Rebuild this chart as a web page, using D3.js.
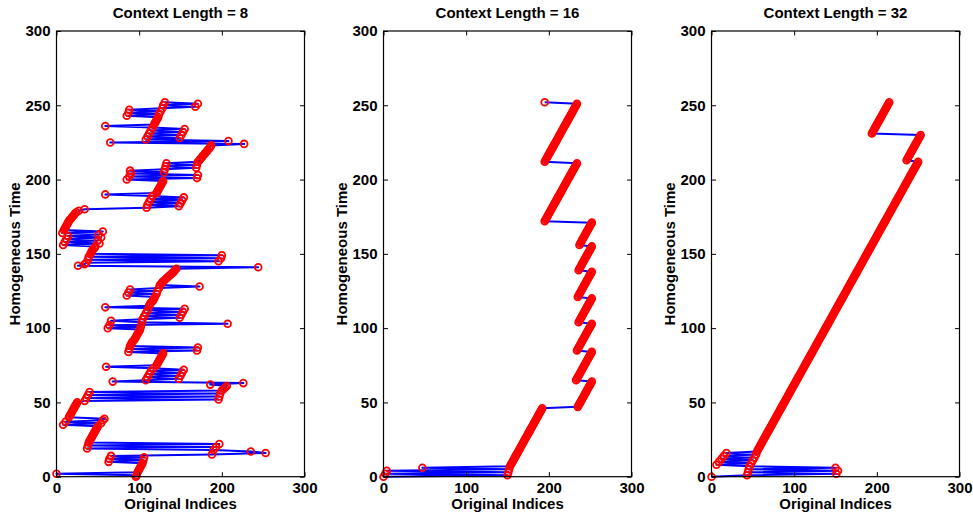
<!DOCTYPE html>
<html><head><meta charset="utf-8">
<script src="https://cdn.jsdelivr.net/npm/d3@7"></script>
<style>
body{margin:0;background:#fff}
svg{display:block}
text{font-family:"Liberation Sans",Arial,Helvetica,sans-serif;font-weight:bold;fill:#000}
</style>
</head><body>
<svg id="c" width="973" height="516"></svg>
<script>
// ---- data ----
const titles = ["Context Length = 8", "Context Length = 16", "Context Length = 32"];
const xLabel = "Original Indices";
const yLabel = "Homogeneous Time";
const xTicks = [0, 100, 200, 300];
const yTicks = [0, 50, 100, 150, 200, 250, 300];

// Original index visited at each homogeneous time step (in order).
// [a,b] = a run of consecutive original indices a..b.
const ctx8 = [96, 97, 0, [98,104], 63, 105, 64, 106, 66, 188, 253, 235, 190, 37, 193, 38, 197, 39, [40,50],
  8, 54, 11, 56, 58, [15,25],
  34, 196, 36, 197, 38, 198, 40, 200, 202, 204, 206, 186, 226, 68,
  108, 148, 110, 150, 112, 152, 114, 154, 117, 60, [121,129],
  87, 170, 88, 171, [89,92], [94,101],
  62, 102, 64, 207, 103, 66, 104, 149, 106, 151, 108, 153, 110, 155, 59, [112,114], [116,119],
  85, 121, 87, 122, 89, 124, 173, 125, 127, 128, 130, 132, 134, 136, 138, 140, 142, 143, 145,
  244, 26, 34, 36, 196, 38, 199, 39, 200, 41, [42,44], 46, 47,
  8, 52, 10, 50, 12, 54, 14, 51, 7, 56, [9,16], 18, 19, 21, 22, 24, 27, 34,
  109, 148, 110, 150, 112, 152, 114, 154, 116, 59, [121,129],
  85, 170, 88, 171, 90, 130, 89, 131, 169, 132, 170, 133, 171,
  173, 174, 176, 177, 179, 180, 182, 183, 185, 186, 187,
  227, 65, 208,
  108, 149, 110, 151, 112, 153, 114, 155, 116, 59, [118,123],
  85, 124, 87, 126, 88, 128, 168, 129, 171, 131];

const ctx16 = [0, 150, 2, 151, 4, 152, 47, 153, [154,192],
  [235,252], [233,252], [234,252], [236,252], [235,252], [236,252], [237,252],
  [195,234], [195,234], 195];

const ctx32 = [0, 43, 151, 44, 153, 45, 150, 46, 6, 48, 9, 50, 12, 52, 15, 54, 18,
  [55,250], [236,253], [194,215]];

const panelsData = [ctx8, ctx16, ctx32];

// ---- layout ----
const lefts = [56.5, 383.5, 711.5];
const W = 248, plotTop = 31, plotBottom = 476.7, H = plotBottom - plotTop;

function expand(seq) {
  const out = [];
  seq.forEach(s => {
    if (Array.isArray(s)) d3.range(s[0], s[1] + 1).forEach(v => out.push(v));
    else out.push(s);
  });
  return out.map((x, t) => ({x, t}));
}

const svg = d3.select("#c");
const x = d3.scaleLinear().domain([0, 300]).range([0, W]);
const y = d3.scaleLinear().domain([0, 300]).range([H, 0]);

panelsData.forEach((seq, i) => {
  const pts = expand(seq);
  const g = svg.append("g").attr("transform", `translate(${lefts[i]},${plotTop})`);

  g.append("path")
    .datum(pts)
    .attr("fill", "none")
    .attr("stroke", "#0000ff")
    .attr("stroke-width", 2)
    .attr("stroke-linejoin", "round")
    .attr("d", d3.line().x(d => x(d.x)).y(d => y(d.t)));

  g.append("g").selectAll("circle").data(pts).join("circle")
    .attr("cx", d => x(d.x)).attr("cy", d => y(d.t)).attr("r", 3.4)
    .attr("fill", "none").attr("stroke", "#ff0000").attr("stroke-width", 1.8);

  const tk = 4.5;
  const axB = g.append("g").attr("transform", `translate(0,${H})`)
    .call(d3.axisBottom(x).tickValues(xTicks).tickSizeInner(-tk).tickSizeOuter(0).tickPadding(6));
  const axL = g.append("g")
    .call(d3.axisLeft(y).tickValues(yTicks).tickSizeInner(-tk).tickSizeOuter(0).tickPadding(6));
  const axT = g.append("g")
    .call(d3.axisTop(x).tickValues(xTicks).tickSizeInner(-tk).tickSizeOuter(0).tickFormat(""));
  const axR = g.append("g").attr("transform", `translate(${W},0)`)
    .call(d3.axisRight(y).tickValues(yTicks).tickSizeInner(-tk).tickSizeOuter(0).tickFormat(""));
  [axB, axL, axT, axR].forEach(a => {
    a.select(".domain").remove();
    a.selectAll("line").attr("stroke", "#000").attr("stroke-width", 1);
    a.selectAll("text").attr("font-size", 15).attr("font-family", null).attr("font-weight", "bold");
  });

  g.append("rect").attr("x", 0).attr("y", 0).attr("width", W).attr("height", H)
    .attr("fill", "none").attr("stroke", "#000").attr("stroke-width", 1.2);

  g.append("text").attr("x", W / 2).attr("y", -12.7).attr("text-anchor", "middle")
    .attr("font-size", 15).text(titles[i]);
  g.append("text").attr("x", W / 2).attr("y", H + 32.3).attr("text-anchor", "middle")
    .attr("font-size", 15).text(xLabel);
  g.append("text").attr("transform", `translate(-36.5,${H / 2}) rotate(-90)`)
    .attr("text-anchor", "middle").attr("font-size", 15).text(yLabel);
});
</script>
</body></html>
